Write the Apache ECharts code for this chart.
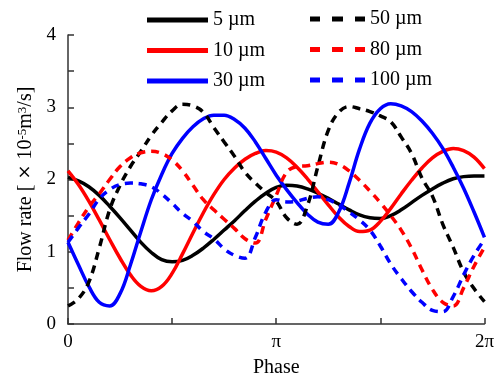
<!DOCTYPE html>
<html>
<head>
<meta charset="utf-8">
<script src="https://cdn.jsdelivr.net/npm/echarts@6/dist/echarts.min.js"></script>
<style>
  html, body { margin: 0; padding: 0; background: #fff; }
  #chart { width: 497px; height: 383px; }
</style>
</head>
<body>
<div id="chart"></div>
<script>
// phase as fraction of one period (0 .. 2π)
const phase = [0, 0.025, 0.05, 0.075, 0.1, 0.125, 0.15, 0.175, 0.2, 0.225,
  0.25, 0.275, 0.3, 0.325, 0.35, 0.375, 0.4, 0.425, 0.45, 0.475,
  0.5, 0.525, 0.55, 0.575, 0.6, 0.625, 0.65, 0.675, 0.7, 0.725,
  0.75, 0.775, 0.8, 0.825, 0.85, 0.875, 0.9, 0.925, 0.95, 0.975, 1];

const flow5 = [2.03, 1.98, 1.90, 1.78, 1.63, 1.47, 1.30, 1.13, 0.99, 0.89,
  0.86, 0.88, 0.95, 1.05, 1.17, 1.30, 1.43, 1.57, 1.70, 1.81,
  1.89, 1.92, 1.91, 1.87, 1.81, 1.74, 1.66, 1.58, 1.51, 1.47,
  1.46, 1.50, 1.58, 1.68, 1.78, 1.87, 1.95, 2.01, 2.04, 2.05, 2.05];
const flow10 = [2.12, 1.93, 1.70, 1.44, 1.17, 0.91, 0.68, 0.52, 0.46, 0.52,
  0.70, 0.97, 1.26, 1.54, 1.79, 2.00, 2.16, 2.28, 2.36, 2.40,
  2.38, 2.30, 2.17, 2.01, 1.83, 1.65, 1.48, 1.35, 1.28, 1.30,
  1.42, 1.60, 1.80, 1.99, 2.16, 2.30, 2.39, 2.43, 2.40, 2.31, 2.15];
const flow30 = [1.13, 0.82, 0.52, 0.30, 0.25, 0.42, 0.82, 1.28, 1.72, 2.07,
  2.36, 2.57, 2.73, 2.84, 2.89, 2.89, 2.83, 2.71, 2.52, 2.29,
  2.06, 1.86, 1.68, 1.52, 1.41, 1.38, 1.55, 1.95, 2.42, 2.78,
  2.98, 3.05, 3.02, 2.94, 2.81, 2.64, 2.43, 2.17, 1.88, 1.55, 1.20];
const flow50 = [0.25, 0.35, 0.58, 1.05, 1.58, 1.92, 2.18, 2.39, 2.61, 2.79,
  2.95, 3.04, 3.02, 2.93, 2.72, 2.52, 2.32, 2.10, 1.95, 1.82,
  1.70, 1.47, 1.38, 1.64, 2.18, 2.68, 2.93, 3.01, 2.98, 2.94,
  2.88, 2.80, 2.59, 2.36, 2.02, 1.77, 1.38, 1.06, 0.72, 0.49, 0.31];
const flow80 = [1.16, 1.40, 1.62, 1.80, 2.00, 2.18, 2.30, 2.37, 2.39, 2.36,
  2.27, 2.12, 1.92, 1.72, 1.58, 1.45, 1.32, 1.18, 1.12, 1.45,
  1.78, 2.10, 2.18, 2.19, 2.22, 2.24, 2.21, 2.12, 1.99, 1.84,
  1.68, 1.50, 1.30, 1.05, 0.75, 0.48, 0.30, 0.25, 0.50, 0.80, 1.06];
const flow100 = [1.13, 1.33, 1.52, 1.73, 1.86, 1.93, 1.95, 1.94, 1.90, 1.80,
  1.67, 1.53, 1.42, 1.28, 1.18, 1.04, 0.95, 0.91, 1.20, 1.55,
  1.72, 1.69, 1.70, 1.74, 1.76, 1.72, 1.65, 1.55, 1.44, 1.30,
  1.08, 0.83, 0.63, 0.45, 0.30, 0.19, 0.17, 0.38, 0.68, 0.95, 1.17];

const xTickLabels = ['0', '', 'π', '', '2π'];
const yTickLabels = [0, 1, 2, 3, 4];

const solidNames = ['5 µm', '10 µm', '30 µm'];
const dashedNames = ['50 µm', '80 µm', '100 µm'];

const FONT = 'Liberation Serif';
const solidIcon = 'path://M0,0h61v5h-61z';
const dashIcon = 'path://M0,0h10v5h-10zM22,0h11v5h-11zM45,0h10v5h-10z';

const zip = (vals) => phase.map((p, i) => [p, vals[i]]);

const makeSeries = (name, vals, color, dashed) => ({
  name: name,
  type: 'line',
  data: zip(vals),
  smooth: 0.4,
  symbol: 'none',
  itemStyle: { color: color },
  lineStyle: { color: color, width: 3.5, type: dashed ? [8, 6] : 'solid' },
  emphasis: { disabled: true },
});

const legendText = { fontFamily: FONT, fontSize: 20, color: '#000', lineHeight: 20 };

const chart = echarts.init(document.getElementById('chart'));
chart.setOption({
  animation: false,
  grid: { left: 68, right: 8, top: 35, bottom: 55 },
  legend: [
    {
      left: 142, top: 5, orient: 'vertical',
      data: solidNames.map((n) => ({ name: n, icon: solidIcon })),
      itemWidth: 61, itemHeight: 5, itemGap: 10.5,
      symbolKeepAspect: false,
      selectedMode: false,
      itemStyle: { borderWidth: 0 },
      textStyle: legendText,
    },
    {
      left: 305, top: 4, orient: 'vertical',
      data: dashedNames.map((n) => ({ name: n, icon: dashIcon })),
      itemWidth: 55, itemHeight: 5, itemGap: 10.5,
      symbolKeepAspect: false,
      selectedMode: false,
      itemStyle: { borderWidth: 0 },
      textStyle: legendText,
    },
  ],
  xAxis: {
    type: 'value',
    min: 0, max: 1, interval: 0.25,
    name: 'Phase',
    nameLocation: 'middle',
    nameGap: 34,
    nameTextStyle: { fontFamily: FONT, fontSize: 20, color: '#000' },
    axisLine: { lineStyle: { color: '#333', width: 1.5 } },
    axisTick: { inside: true, length: 6, lineStyle: { color: '#333', width: 1.5 } },
    axisLabel: {
      fontFamily: FONT, fontSize: 19, color: '#000', margin: 9,
      formatter: (v) => xTickLabels[Math.round(v / 0.25)],
    },
    splitLine: { show: false },
  },
  yAxis: {
    type: 'value',
    min: 0, max: 4, interval: 0.5,
    name: 'Flow rate [ {x|×} 10{sup|-5}m{sup|3}/s]',
    nameLocation: 'middle',
    nameGap: 29,
    nameTextStyle: {
      fontFamily: FONT, fontSize: 20, color: '#000',
      rich: {
        sup: { fontFamily: FONT, fontSize: 13, verticalAlign: 'top', color: '#000' },
        x: { fontFamily: 'DejaVu Sans', fontSize: 18, color: '#000' },
      },
    },
    axisLine: { show: true, lineStyle: { color: '#333', width: 1.5 } },
    axisTick: { inside: true, length: 6, lineStyle: { color: '#333', width: 1.5 } },
    axisLabel: {
      fontFamily: FONT, fontSize: 19, color: '#000', margin: 12,
      formatter: (v) => (yTickLabels.includes(v) ? String(v) : ''),
    },
    splitLine: { show: false },
  },
  series: [
    makeSeries('5 µm', flow5, '#000000', false),
    makeSeries('10 µm', flow10, '#ff0000', false),
    makeSeries('30 µm', flow30, '#0000ff', false),
    makeSeries('50 µm', flow50, '#000000', true),
    makeSeries('80 µm', flow80, '#ff0000', true),
    makeSeries('100 µm', flow100, '#0000ff', true),
  ],
});
</script>
</body>
</html>
